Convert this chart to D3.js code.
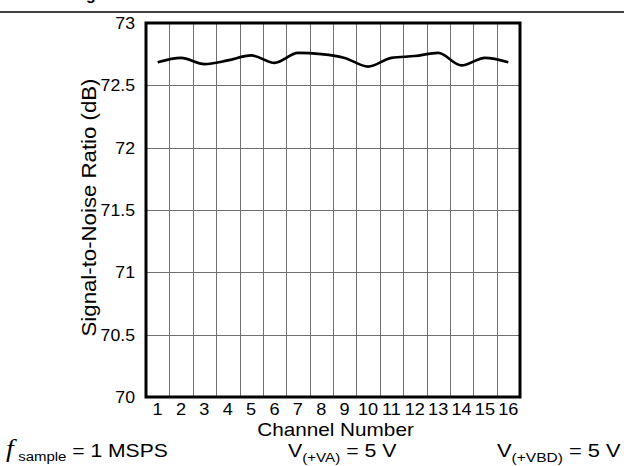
<!DOCTYPE html>
<html>
<head>
<meta charset="utf-8">
<script src="https://cdn.jsdelivr.net/npm/d3@7"></script>
<style>
  html, body { margin: 0; padding: 0; background: #fff; }
  svg { display: block; font-family: "Liberation Sans", Arial, Helvetica, sans-serif; }
</style>
</head>
<body>
<svg id="chart" width="624" height="466"></svg>
<script>
// ---- data ----
const channels = [1,2,3,4,5,6,7,8,9,10,11,12,13,14,15,16];
const snr = [72.685,72.72,72.67,72.70,72.74,72.68,72.76,72.75,72.72,72.65,72.72,72.735,72.76,72.66,72.72,72.685];
const yTicks = [70,70.5,71,71.5,72,72.5,73];
const yTickLabels = ["70","70.5","71","71.5","72","72.5","73"];
const xTitle = "Channel Number";
const yTitle = "Signal-to-Noise Ratio (dB)";

// ---- layout ----
const svg = d3.select("#chart");
const L = 146, R = 520, T = 23, B = 397;

const x = d3.scaleLinear().domain([0.5, 16.5]).range([L, R]);
const y = d3.scaleLinear().domain([70, 73]).range([B, T]);

function stretch(sel, s) {
  sel.each(function() {
    const len = this.getComputedTextLength();
    d3.select(this).attr("textLength", len * s).attr("lengthAdjust", "spacingAndGlyphs");
  });
}
function fitWidth(sel, x0, w) {
  const bb = sel.node().getBBox();
  const s = w / bb.width;
  sel.attr("transform", `translate(${x0},0) scale(${s},1) translate(${-bb.x},0)`);
}

// top rule and cut-off heading
svg.append("line").attr("x1", 0).attr("x2", 624).attr("y1", 12).attr("y2", 12)
  .attr("stroke", "#000").attr("stroke-width", 1.5);
svg.append("text").attr("x", 86).attr("y", -0.5).attr("font-weight", "bold")
  .attr("font-size", 16).text("g");

// grid
const g = svg.append("g");
g.selectAll(".vg").data(channels.slice(0, -1)).enter().append("line")
  .attr("x1", d => Math.round(x(d + 0.5)) + 0.5).attr("x2", d => Math.round(x(d + 0.5)) + 0.5)
  .attr("y1", T).attr("y2", B).attr("stroke", "#707070").attr("stroke-width", 1);
g.selectAll(".hg").data(yTicks.slice(1, -1)).enter().append("line")
  .attr("x1", L).attr("x2", R)
  .attr("y1", d => Math.round(y(d)) + 0.5).attr("y2", d => Math.round(y(d)) + 0.5)
  .attr("stroke", "#707070").attr("stroke-width", 1);

// data line
const line = d3.line().x((d, i) => x(channels[i])).y(d => y(d)).curve(d3.curveMonotoneX);
svg.append("path").datum(snr).attr("d", line).attr("fill", "none")
  .attr("stroke", "#000").attr("stroke-width", 2.6).attr("stroke-linejoin", "round");

// frame
svg.append("rect").attr("x", L).attr("y", T).attr("width", R - L).attr("height", B - T)
  .attr("fill", "none").attr("stroke", "#000").attr("stroke-width", 3);

// y tick labels
svg.selectAll(".yl").data(yTicks).enter().append("text")
  .attr("x", 135).attr("y", d => y(d) + 6).attr("text-anchor", "end")
  .attr("font-size", 17).text((d, i) => yTickLabels[i])
  .call(stretch, 1.04);

// x tick labels
svg.selectAll(".xl").data(channels).enter().append("text")
  .attr("x", d => x(d)).attr("y", 414.5).attr("text-anchor", "middle")
  .attr("font-size", 16.5).text(d => d)
  .call(stretch, 1.1);

// axis titles
svg.append("text").attr("x", 335.5).attr("y", 435.5).attr("text-anchor", "middle")
  .attr("font-size", 18.5).text(xTitle).call(stretch, 1.12);
svg.append("text").attr("transform", "translate(96,207.5) rotate(-90)")
  .attr("text-anchor", "middle").attr("font-size", 20).text(yTitle).call(stretch, 1.11);

// bottom conditions
const c1 = svg.append("text").attr("x", 0).attr("y", 457).attr("font-size", 19);
c1.append("tspan").attr("font-family", "Liberation Serif, Times New Roman, serif")
  .attr("font-style", "italic").attr("font-size", 25).text("f");
c1.append("tspan").attr("font-size", 13.5).attr("dy", 4).attr("dx", 4).text("sample");
c1.append("tspan").attr("dy", -4).text(" = 1 MSPS");
fitWidth(c1, 6, 162);

const c2 = svg.append("text").attr("x", 0).attr("y", 457).attr("font-size", 19);
c2.append("tspan").text("V");
c2.append("tspan").attr("font-size", 13.5).attr("dy", 5).text("(+VA)");
c2.append("tspan").attr("dy", -5).text(" = 5 V");
fitWidth(c2, 288, 109);

const c3 = svg.append("text").attr("x", 0).attr("y", 457).attr("font-size", 19);
c3.append("tspan").text("V");
c3.append("tspan").attr("font-size", 13.5).attr("dy", 5).text("(+VBD)");
c3.append("tspan").attr("dy", -5).text(" = 5 V");
fitWidth(c3, 497, 124);
</script>
</body>
</html>
